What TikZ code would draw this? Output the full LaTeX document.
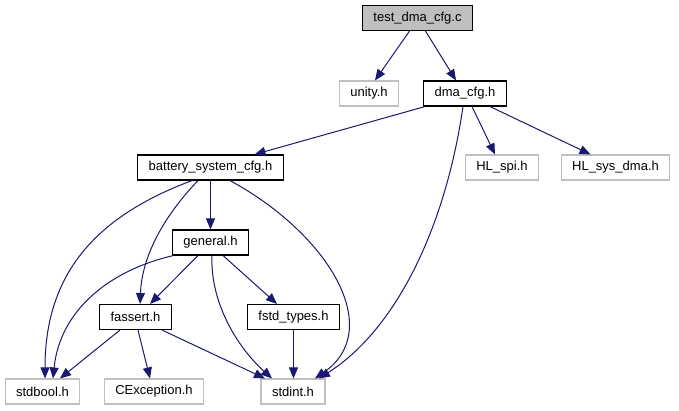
\documentclass[tikz,border=0pt]{standalone}
\usepackage{fontspec}
\setmainfont{Liberation Sans}
\usetikzlibrary{arrows.meta,positioning}
\definecolor{edgeblue}{RGB}{25,25,112}
\definecolor{greybox}{RGB}{191,191,191}

\begin{document}
\begin{tikzpicture}[
			x=1pt,y=-1pt,
			>={Triangle[length=11pt,width=9pt]},
			hdr/.style={
				draw=black,
				line width=1.1pt,
				inner xsep=11pt,
				inner ysep=0pt,
				minimum height=25pt,
				font=\fontsize{13}{15}\selectfont
			},
			ext/.style={
				hdr,
				draw=greybox
			},
			root/.style={
				hdr,
				fill=greybox
			},
			dep/.style={
				->,
				draw=edgeblue,
				line width=1pt
			}
			]
			
			\useasboundingbox (0,0) rectangle (679,411);
			
			\node[root] (test) at (417.5,18) {test\_dma\_cfg.c};
			
			\node[ext] (unity) at (369,93.5) {unity.h};
			\node[hdr] (dma) at (465,93.5) {dma\_cfg.h};
			
			\node[hdr] (bsc) at (210.5,167.5) {battery\_system\_cfg.h};
			\node[ext] (hlspi) at (502,167.5) {HL\_spi.h};
			\node[ext] (hlsysdma) at (615.5,167.5) {HL\_sys\_dma.h};
			
			\node[hdr] (general) at (210.5,242.5) {general.h};
			
			\node[hdr] (fassert) at (135.5,317) {fassert.h};
			\node[hdr] (fstd) at (293.5,317) {fstd\_types.h};
			
			\node[ext] (stdbool) at (42.5,391.5) {stdbool.h};
			\node[ext] (cexc) at (154,391.5) {CException.h};
			\node[ext] (stdint) at (293,391.5) {stdint.h};
			
			\draw[dep] ([xshift=-8pt]test.south) -- ([xshift=6pt]unity.north);
			\draw[dep] ([xshift=8pt]test.south) -- ([xshift=-9pt]dma.north);
			
			\draw[dep] ([xshift=-40pt]dma.south) -- ([xshift=44pt]bsc.north);
			\draw[dep] ([xshift=-2pt]dma.south) .. controls (445,230) and (395,330) .. ([xshift=26pt]stdint.north);
			\draw[dep] ([xshift=7pt]dma.south) -- ([xshift=-7pt]hlspi.north);
			\draw[dep] ([xshift=25pt]dma.south) -- ([xshift=-25pt]hlsysdma.north);
			
			\draw[dep] ([xshift=-18.5pt]bsc.south) .. controls (100,215) and (45,270) .. ([xshift=2.5pt]stdbool.north);
			\draw[dep] ([xshift=-12.5pt]bsc.south) .. controls (165,215) and (142,255) .. ([xshift=4.5pt]fassert.north);
			\draw[dep] (bsc.south) -- (general.north);
			\draw[dep] ([xshift=19.5pt]bsc.south) .. controls (330,235) and (385,330) .. ([xshift=22pt]stdint.north);
			
			\draw[dep] ([xshift=-37pt]general.south) .. controls (110,270) and (60,310) .. ([xshift=10.5pt]stdbool.north);
			\draw[dep] ([xshift=-12.5pt]general.south) -- ([xshift=14.5pt]fassert.north);
			\draw[dep] ([xshift=1.5pt]general.south) .. controls (210,300) and (235,345) .. ([xshift=-21pt]stdint.north);
			\draw[dep] ([xshift=12.5pt]general.south) -- ([xshift=-16.5pt]fstd.north);
			
			\draw[dep] ([xshift=-15.5pt]fassert.south) -- ([xshift=17.5pt]stdbool.north);
			\draw[dep] ([xshift=2.5pt]fassert.south) -- ([xshift=-4pt]cexc.north);
			\draw[dep] ([xshift=26.5pt]fassert.south) -- ([xshift=-28pt]stdint.north);
			
			\draw[dep] (fstd.south) -- (fstd.south |- stdint.north);
			
		\end{tikzpicture}
\end{document}
